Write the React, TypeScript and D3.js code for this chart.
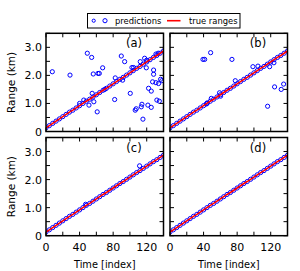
import * as d3 from "d3";

// true ranges, read every 4th index off the red line
const timeIdx = [0, 4, 8, 12, 16, 20, 24, 28, 32, 36, 40, 44, 48, 52, 56, 60, 64, 68, 72, 76, 80, 84, 88, 92, 96, 100, 104, 108, 112, 116, 120, 124, 128, 132, 136, 140];
const trueRanges = [0.13, 0.21, 0.29, 0.37, 0.45, 0.53, 0.61, 0.69, 0.76, 0.84, 0.92, 1.0, 1.08, 1.15, 1.23, 1.31, 1.39, 1.47, 1.54, 1.62, 1.7, 1.78, 1.86, 1.93, 2.01, 2.09, 2.17, 2.25, 2.32, 2.4, 2.48, 2.56, 2.64, 2.71, 2.79, 2.87];

// predictions that leave the line, [index, km]
const offA: [number, number][] = [
  [7.5, 2.13], [28.6, 2.01], [49.2, 2.79], [54.4, 2.64], [56.3, 2.05], [62, 2.07], [63.5, 2.07],
  [67.5, 2.27], [61, 0.7], [57, 1.06], [51.2, 0.94], [55, 1.36], [45, 1.12], [89.7, 2.69],
  [93.7, 2.49], [100.4, 1.36], [81.8, 1.14], [102.4, 2.28], [104.4, 2.28], [112.3, 2.49],
  [117.5, 2.61], [119.5, 2.27], [119.9, 2.54], [106.3, 0.76], [107.5, 0.81], [113.5, 0.88],
  [114.3, 0.97], [115.5, 0.44], [122.2, 1.54], [125.4, 1.44], [121.4, 0.94], [125.4, 0.86],
  [128.2, 2.19], [128.2, 2.04], [127, 1.77], [131, 1.74], [132.1, 1.12], [135, 1.08],
  [134.1, 1.71], [136.5, 1.86], [138, 1.81], [131, 2.76], [133.7, 2.79], [82.5, 1.91],
  [91.3, 1.83], [70, 1.5], [40, 1.0],
];
const offB: [number, number][] = [
  [39.3, 2.57], [41.3, 2.57], [48.4, 2.81], [43.3, 0.98], [44.4, 1.02], [49.2, 1.18],
  [59, 1.38], [60.3, 1.26], [73.8, 2.57], [77.8, 1.81], [98.8, 2.31], [104.8, 2.33],
  [118.7, 2.31], [123.8, 2.45], [124.6, 1.59], [132.5, 1.5], [135.4, 1.69], [116.3, 0.9],
];
const offC: [number, number][] = [[47.2, 1.12], [111.5, 2.49]];
const offD: [number, number][] = [];

const panelLabels = ["(a)", "(b)", "(c)", "(d)"];
const panelOff = [offA, offB, offC, offD];

const xTicks = d3.range(0, 141, 20);
const xLabels = [0, 40, 80, 120];
const yTicks = d3.range(0, 3.51, 0.5);
const yLabels = [0, 1, 2, 3];

const font = "DejaVu Sans, sans-serif";
const colX = [46, 170];
const rowY = [33.3, 137.5];
const pw = 117.5;
const ph = 98.2;
const blue = "#0000ff";
const red = "#ff0000";

function Panel({ i }: { i: number }) {
  const col = i % 2;
  const row = Math.floor(i / 2);
  const x0 = colX[col];
  const y0 = rowY[row];
  const x = d3.scaleLinear().domain([0, 140]).range([x0, x0 + pw]);
  const y = d3.scaleLinear().domain([0, 3.5]).range([y0 + ph, y0]);
  const pts: [number, number][] = timeIdx.map((t, k) => [t, trueRanges[k]]);
  const preds = pts.concat(panelOff[i]);
  const line = d3
    .line<[number, number]>()
    .x((d) => x(d[0]))
    .y((d) => y(d[1]));
  const tl = 4;
  return (
    <g>
      <defs>
        <clipPath id={`clip${i}`}>
          <rect x={x0} y={y0} width={pw} height={ph} />
        </clipPath>
      </defs>
      <g clipPath={`url(#clip${i})`}>
        {preds.map((d, k) => (
          <circle key={k} cx={x(d[0])} cy={y(d[1])} r={2.1} fill="none" stroke={blue} strokeWidth={1} />
        ))}
        <path d={line(pts) ?? ""} fill="none" stroke={red} strokeWidth={1.6} />
      </g>
      {xTicks.map((t) => (
        <g key={`x${t}`} stroke="black" strokeWidth={1}>
          <line x1={x(t)} x2={x(t)} y1={y0 + ph} y2={y0 + ph - tl} />
          <line x1={x(t)} x2={x(t)} y1={y0} y2={y0 + tl} />
        </g>
      ))}
      {yTicks.map((v) => (
        <g key={`y${v}`} stroke="black" strokeWidth={1}>
          <line x1={x0} x2={x0 + tl} y1={y(v)} y2={y(v)} />
          <line x1={x0 + pw} x2={x0 + pw - tl} y1={y(v)} y2={y(v)} />
        </g>
      ))}
      <rect x={x0} y={y0} width={pw} height={ph} fill="none" stroke="black" strokeWidth={1.5} />
      <text x={x0 + 88} y={y0 + 14} fontFamily={font} fontSize={11.5} textAnchor="middle">
        {panelLabels[i]}
      </text>
      {col === 0 &&
        yLabels.map((v) => (
          <text key={`yl${v}`} x={x0 - 4} y={y(v) + 4} fontFamily={font} fontSize={11} textAnchor="end">
            {v === 0 ? "0" : v.toFixed(1)}
          </text>
        ))}
      {col === 0 && (
        <text
          transform={`translate(15,${y0 + ph / 2}) rotate(-90)`}
          fontFamily={font}
          fontSize={10.5}
          textAnchor="middle"
        >
          Range (km)
        </text>
      )}
      {row === 1 &&
        xLabels.map((t) => (
          <text key={`xl${t}`} x={x(t)} y={y0 + ph + 15} fontFamily={font} fontSize={11} textAnchor="middle">
            {t}
          </text>
        ))}
      {row === 1 && (
        <text x={x0 + pw / 2} y={y0 + ph + 32} fontFamily={font} fontSize={9.8} textAnchor="middle">
          Time [index]
        </text>
      )}
    </g>
  );
}

export default function App() {
  return (
    <svg width={300} height={271} style={{ position: "absolute", left: 0, top: 0, background: "white" }}>
      {[0, 1, 2, 3].map((i) => (
        <Panel key={i} i={i} />
      ))}
      <g fontFamily={font} fontSize={8.4}>
        <rect x={87.5} y={13.5} width={152.5} height={14.5} fill="white" stroke="black" strokeWidth={1} />
        <circle cx={93.7} cy={20.7} r={1.6} fill="none" stroke={blue} strokeWidth={1} />
        <circle cx={105} cy={20.7} r={2.1} fill="none" stroke={blue} strokeWidth={1} />
        <text x={115} y={23.8}>predictions</text>
        <line x1={167} x2={180.5} y1={20.7} y2={20.7} stroke={red} strokeWidth={1.6} />
        <text x={189} y={23.8}>true ranges</text>
      </g>
    </svg>
  );
}
